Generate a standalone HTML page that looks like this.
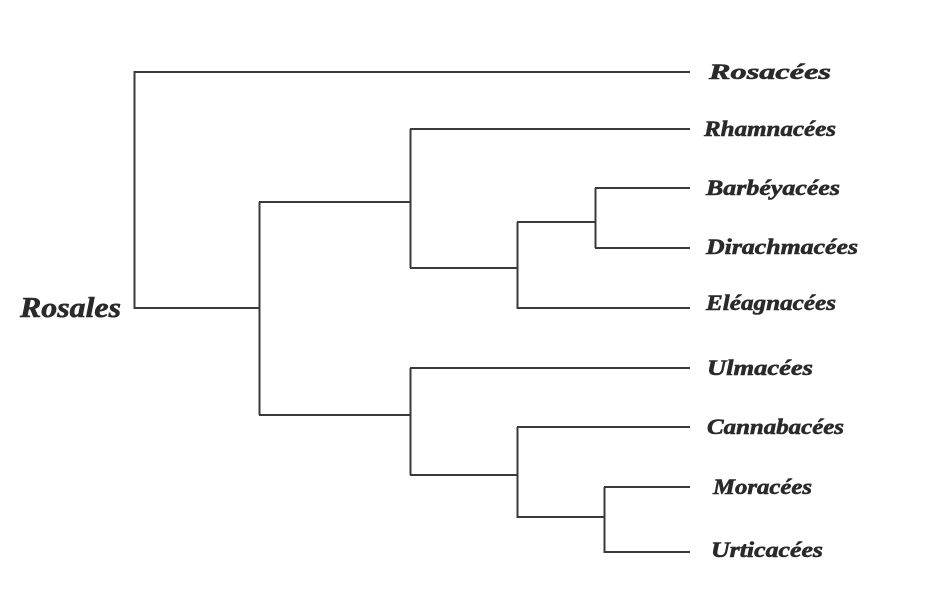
<!DOCTYPE html>
<html><head><meta charset="utf-8"><style>
html,body{margin:0;padding:0;background:#fff;}
svg{display:block;}
text{font-family:"Liberation Serif",serif;font-weight:bold;font-style:italic;fill:#2a2a2a;stroke:#2a2a2a;stroke-width:0.6;}
</style></head><body>
<svg width="948" height="609" viewBox="0 0 948 609">
<g stroke="#3a3a3a" stroke-width="2" fill="none">
<path d="M690 72H134.5V308H259"/>
<path d="M259.5 202V415"/>
<path d="M259 202H410"/>
<path d="M410.5 129V268"/>
<path d="M410 129H690"/>
<path d="M410 268H517"/>
<path d="M517.5 222V308H690"/>
<path d="M517 222H595"/>
<path d="M595.5 188V248"/>
<path d="M595 188H690"/>
<path d="M595 248H690"/>
<path d="M259 415H410"/>
<path d="M410.5 368V475"/>
<path d="M410 368H690"/>
<path d="M410 475H517"/>
<path d="M517.5 427V517H604"/>
<path d="M517 427H690"/>
<path d="M604.5 487V552H690"/>
<path d="M604 487H690"/>
</g>
<g font-size="22">
<text x="709" y="79" textLength="122" lengthAdjust="spacingAndGlyphs">Rosacées</text>
<text x="704" y="136" textLength="132" lengthAdjust="spacingAndGlyphs">Rhamnacées</text>
<text x="706" y="195" textLength="134" lengthAdjust="spacingAndGlyphs">Barbéyacées</text>
<text x="706" y="254" textLength="152" lengthAdjust="spacingAndGlyphs">Dirachmacées</text>
<text x="706" y="310" textLength="130" lengthAdjust="spacingAndGlyphs">Eléagnacées</text>
<text x="707" y="375" textLength="106" lengthAdjust="spacingAndGlyphs">Ulmacées</text>
<text x="707" y="434" textLength="137" lengthAdjust="spacingAndGlyphs">Cannabacées</text>
<text x="713" y="494" textLength="99" lengthAdjust="spacingAndGlyphs">Moracées</text>
<text x="711" y="557" textLength="112" lengthAdjust="spacingAndGlyphs">Urticacées</text>
</g>
<text x="20" y="317" font-size="29" textLength="101" lengthAdjust="spacingAndGlyphs">Rosales</text>
</svg>
</body></html>
